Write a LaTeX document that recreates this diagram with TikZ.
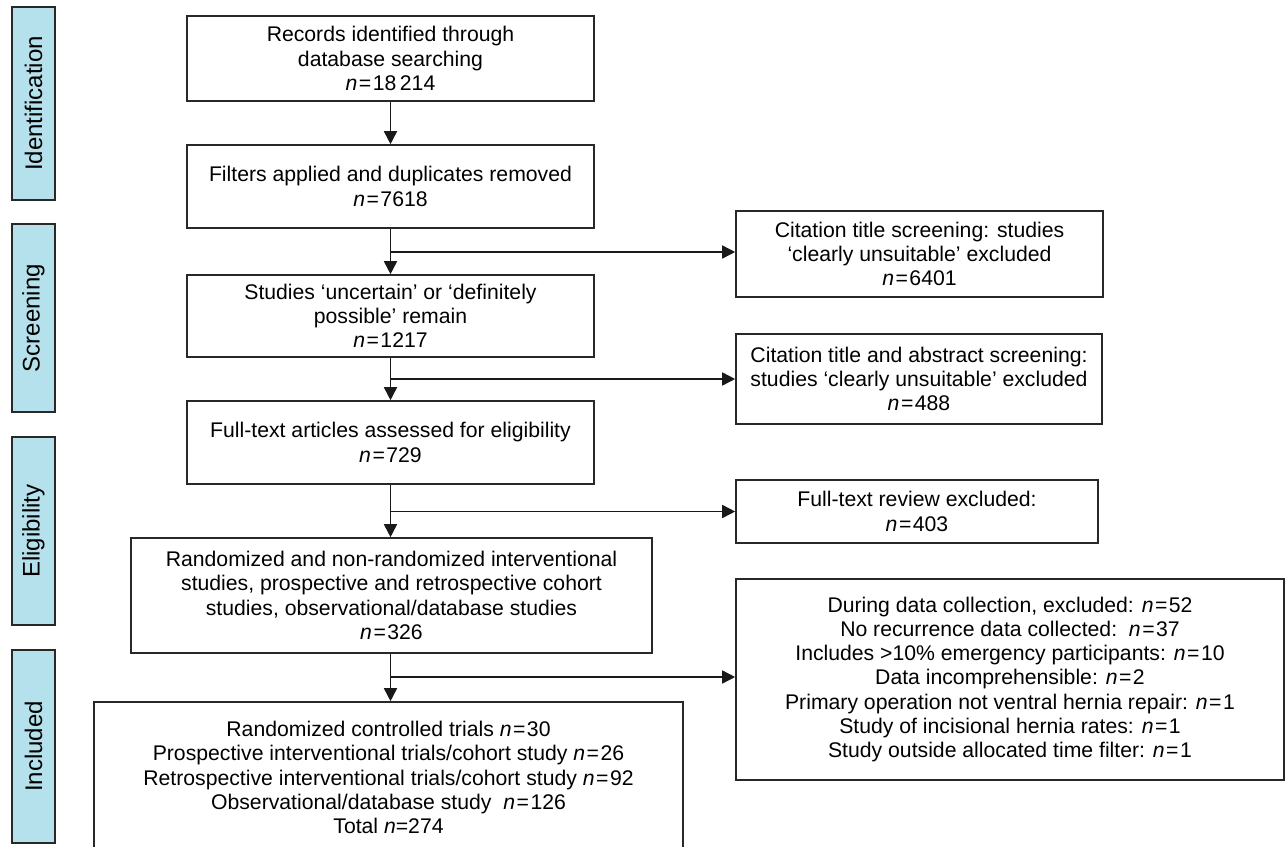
\documentclass[tikz,border=0pt]{standalone}
\usepackage{fontspec}
\setmainfont{Liberation Sans}
\usetikzlibrary{arrows.meta}
\definecolor{sideblue}{RGB}{180,225,236}
\definecolor{edge}{RGB}{40,40,40}
\newcommand\nq{\textit{n}\kern1.5pt=\kern1.5pt}
\begin{document}
\begin{tikzpicture}[x=1pt,y=-1pt,
  box/.style={draw=edge, line width=1.6pt, align=center, inner sep=0pt,
    font=\fontsize{21.2}{24.2}\selectfont},
  side/.style={draw=edge, line width=1.6pt, fill=sideblue, rotate=90,
    inner sep=0pt, minimum height=43pt, font=\fontsize{24}{26}\selectfont},
  arr/.style={draw=black!90, line width=1.6pt, -{Triangle[length=13pt,width=13pt]}}]
\useasboundingbox (0,0) rectangle (1285,846);
% side bars
\node[side, minimum width=193pt] (sI) at (33.5,103.5) {Identification};
\node[side, minimum width=188pt] (sS) at (33.5,318) {Screening};
\node[side, minimum width=188pt] (sE) at (33.5,531) {Eligibility};
\node[side, minimum width=193pt] (sC) at (33.5,746.5) {Included};
% main boxes
\node[box, minimum width=407pt, minimum height=85pt] (b1) at (390.5,58.5)
  {Records identified through\\database searching\\\nq18\,214};
\node[box, minimum width=407pt, minimum height=83pt] (b2) at (390.5,186.5)
  {Filters applied and duplicates removed\\\nq7618};
\node[box, minimum width=407pt, minimum height=82pt] (b3) at (390.5,316)
  {Studies `uncertain' or `definitely\\possible' remain\\\nq1217};
\node[box, minimum width=407pt, minimum height=83pt] (b4) at (390.5,442.5)
  {Full-text articles assessed for eligibility\\\nq729};
\node[box, minimum width=521pt, minimum height=115pt] (b5) at (391.5,595.5)
  {Randomized and non-randomized interventional\\studies, prospective and retrospective cohort\\studies, observational/database studies\\\nq326};
\node[box, minimum width=589pt, minimum height=151pt] (b6) at (388.5,777.5)
  {Randomized controlled trials \nq30\\Prospective interventional trials/cohort study \nq26\\Retrospective interventional trials/cohort study \nq92\\Observational/database study\ \ \nq126\\Total \textit{n}=274};
% right boxes
\node[box, minimum width=367pt, minimum height=86pt] (r1) at (919.5,254)
  {Citation title screening: studies\\`clearly unsuitable' excluded\\\nq6401};
\node[box, minimum width=366pt, minimum height=90pt] (r2) at (919,379)
  {Citation title and abstract screening:\\studies `clearly unsuitable' excluded\\\nq488};
\node[box, minimum width=362pt, minimum height=63pt] (r3) at (917,511.5)
  {Full-text review excluded:\\\nq403};
\node[box, minimum width=548pt, minimum height=201pt] (r4) at (1010,679.5)
  {During data collection, excluded: \nq52\\No recurrence data collected:\ \ \nq37\\Includes >10\% emergency participants: \nq10\\Data incomprehensible: \nq2\\Primary operation not ventral hernia repair: \nq1\\Study of incisional hernia rates: \nq1\\Study outside allocated time filter: \nq1};
% connectors
\draw[arr] (b1.south) -- (b2.north);
\draw[arr] (b2.south) -- (b3.north);
\draw[arr] (b3.south) -- (b4.north);
\draw[arr] (b4.south) -- (b4.south |- b5.north);
\draw[arr] (b4.south |- b5.south) -- (b4.south |- b6.north);
\coordinate (j1) at ([yshift=2pt]b2.south |- r1.west);
\coordinate (j2) at (b3.south |- r2.west);
\coordinate (j3) at (b4.south |- r3.west);
\coordinate (j4) at ([yshift=2.5pt]b4.south |- r4.west);
\draw[arr] (j1) -- (j1 -| r1.west);
\draw[arr] (j2) -- (r2.west);
\draw[arr] (j3) -- (r3.west);
\draw[arr] (j4) -- (j4 -| r4.west);
\end{tikzpicture}
\end{document}
